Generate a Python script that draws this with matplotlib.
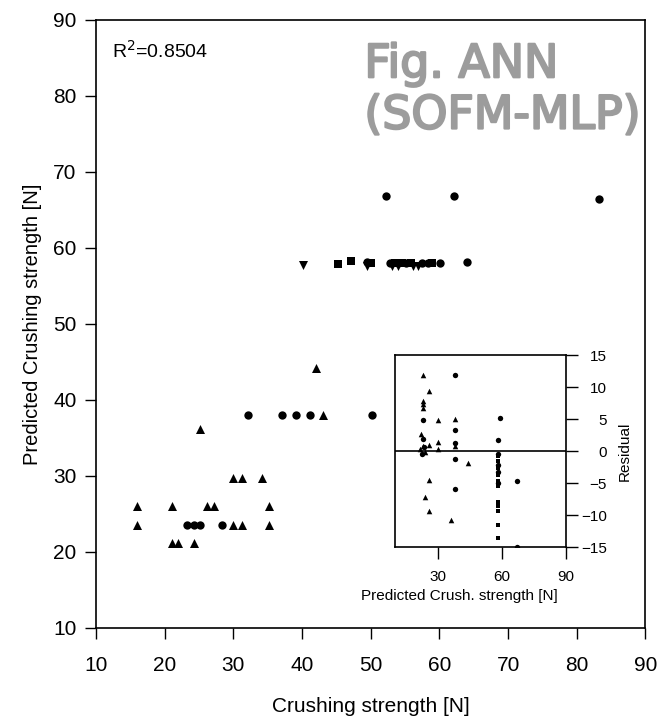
import matplotlib.pyplot as plt
import matplotlib.patheffects as pe

plt.rcParams['font.family'] = ['Liberation Sans', 'DejaVu Sans']

# main plot: measured (x) vs predicted (y) crushing strength
circ_x = [52.2, 62.1, 83.2, 32.2, 37.1, 39.1, 41.1, 50.2, 23.2, 24.2, 25.1, 28.3,
          49.4, 52.8, 54.0, 55.2, 57.4, 58.3, 60.1, 64.0]
circ_y = [66.8, 66.8, 66.5, 38.0, 38.0, 38.0, 38.0, 38.0, 23.6, 23.6, 23.6, 23.6,
          58.1, 58.0, 58.0, 58.0, 58.0, 58.0, 58.0, 58.1]

tri_x = [42.1, 43.1, 25.2, 30.0, 31.2, 34.2, 16.0, 21.0, 26.2, 27.2, 35.2,
         16.0, 30.0, 31.2, 35.2, 21.0, 22.0, 24.2]
tri_y = [44.2, 38.0, 36.2, 29.8, 29.8, 29.8, 26.1, 26.1, 26.1, 26.1, 26.1,
         23.6, 23.6, 23.6, 23.6, 21.2, 21.2, 21.2]

tdn_x = [40.2, 49.4, 53.1, 53.9, 56.1, 56.9]
tdn_y = [57.7, 57.6, 57.6, 57.6, 57.6, 57.6]

sq_x = [45.3, 47.1, 50.1, 53.5, 54.6, 55.8, 58.9]
sq_y = [57.9, 58.3, 58.0, 58.0, 58.0, 58.0, 58.0]

# inset: predicted vs residual
in_tri_x = [22.9, 26.1, 22.9, 22.9, 22.9, 30.2, 38.0, 22.0, 30.2, 26.1, 21.8, 23.2,
            38.0, 30.2, 24.0, 44.1, 26.1, 23.9, 26.1, 36.0]
in_tri_y = [11.9, 9.4, 7.9, 7.3, 6.8, 4.8, 5.0, 2.6, 1.4, 1.0, 0.3, 0.8,
            0.8, 0.4, -0.2, -1.9, -4.5, -7.1, -9.4, -10.8]
in_circ_x = [38.0, 22.9, 38.0, 22.9, 38.0, 23.5, 22.5, 38.0, 38.0, 59.0, 58.0,
             67.0, 67.0, 58.0, 58.0, 58.0, 58.0]
in_circ_y = [11.9, 4.8, 3.3, 1.9, 1.2, 0.6, -0.4, -1.3, -5.9, 5.1, 1.7,
             -4.7, -14.9, -0.4, -2.1, -3.2, -5.0]
in_sq_x = [58.0] * 11
in_sq_y = [-0.8, -1.6, -2.6, -3.8, -4.6, -5.4, -8.0, -8.6, -9.4, -11.5, -13.5]

fig = plt.figure(figsize=(6.59, 7.22), dpi=100)
ax = fig.add_axes([0.1457, 0.1302, 0.8338, 0.8421])
ax.scatter(circ_x, circ_y, marker='o', s=36, color='black', linewidths=0)
ax.scatter(tri_x, tri_y, marker='^', s=42, color='black', linewidths=0)
ax.scatter(tdn_x, tdn_y, marker='v', s=42, color='black', linewidths=0)
ax.scatter(sq_x, sq_y, marker='s', s=28, color='black', linewidths=0)
ax.set_xlim(10, 90)
ax.set_ylim(10, 90)
ax.set_xticks(range(10, 91, 10))
ax.set_yticks(range(10, 91, 10))
ax.tick_params(direction='out', length=8, width=1, labelsize=15)
ax.tick_params(axis='x', pad=12)
ax.tick_params(axis='y', pad=6)
for sp in ax.spines.values():
    sp.set_linewidth(1.2)
ax.set_xlabel('Crushing strength [N]', fontsize=15, labelpad=16)
ax.set_ylabel('Predicted Crushing strength [N]', fontsize=14.5, labelpad=8)
ax.text(0.029, 0.968, 'R$^2$=0.8504', transform=ax.transAxes, fontsize=14,
        va='top', ha='left')

gray_fx = [pe.withStroke(linewidth=1.6, foreground='#9c9c9c')]
fig.text(0.553, 0.893, 'Fig. ANN', fontsize=33, color='#9c9c9c',
         family='DejaVu Sans', ha='left', va='baseline', path_effects=gray_fx)
fig.text(0.553, 0.822, '(SOFM-MLP)', fontsize=33, color='#9c9c9c',
         family='DejaVu Sans', ha='left', va='baseline', path_effects=gray_fx)

ins = fig.add_axes([0.5994, 0.2420, 0.2595, 0.2663])
ins.scatter(in_tri_x, in_tri_y, marker='^', s=16, color='black', linewidths=0)
ins.scatter(in_circ_x, in_circ_y, marker='o', s=15, color='black', linewidths=0)
ins.scatter(in_sq_x, in_sq_y, marker='s', s=11, color='black', linewidths=0)
ins.axhline(0, color='black', lw=1.2)
ins.set_xlim(10, 90)
ins.set_ylim(-15, 15)
ins.set_xticks([30, 60, 90])
ins.set_yticks(range(-15, 16, 5))
ins.yaxis.tick_right()
ins.yaxis.set_label_position('right')
ins.tick_params(direction='out', length=8.5, width=1, labelsize=11)
ins.tick_params(axis='x', pad=8)
ins.tick_params(axis='y', pad=21)
for lab in ins.get_yticklabels():
    lab.set_horizontalalignment('right')
for sp in ins.spines.values():
    sp.set_linewidth(1.2)
ins.set_xlabel('Predicted Crush. strength [N]', fontsize=11)
ins.xaxis.set_label_coords(0.375, -0.215)
ins.set_ylabel('Residual', fontsize=11, labelpad=8)

fig.savefig('out.png', dpi=100)
